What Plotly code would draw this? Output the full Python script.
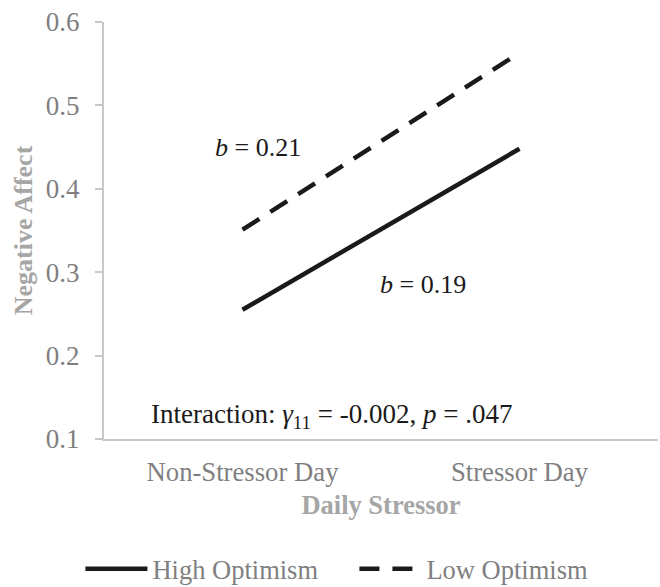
import plotly.graph_objects as go

categories = ["Non-Stressor Day", "Stressor Day"]
high_optimism = [0.255, 0.448]
low_optimism = [0.351, 0.563]
y_ticks = [0.1, 0.2, 0.3, 0.4, 0.5, 0.6]

FONT = "Liberation Serif, Times New Roman, serif"
GRAY = "#7f7f7f"
TITLE_GRAY = "#a6a6a6"
AXIS = "#c8c8c8"
INK = "#1a1a1a"
FS = 26

fig = go.Figure()
fig.add_trace(go.Scatter(x=categories, y=high_optimism, mode="lines", name="High Optimism",
                         line=dict(color=INK, width=4.5)))
fig.add_trace(go.Scatter(x=categories, y=low_optimism, mode="lines", name="Low Optimism",
                         line=dict(color=INK, width=4.5, dash="20px,13px")))

fig.update_layout(
    width=660, height=587,
    margin=dict(l=104, r=2, t=22, b=148, autoexpand=False),
    paper_bgcolor="white", plot_bgcolor="white",
    font=dict(family=FONT, size=FS, color=GRAY),
    showlegend=True,
    legend=dict(orientation="h", x=0.452, xanchor="center", y=-0.312, yanchor="middle",
                font=dict(family=FONT, size=26.5, color=GRAY),
                itemwidth=62, entrywidth=197, traceorder="normal"),
)
fig.update_xaxes(
    type="category", range=[-0.5, 1.5], showgrid=False, zeroline=False, automargin=False,
    showline=True, linecolor=AXIS, linewidth=2, ticks="",
    tickfont=dict(family=FONT, size=26.7, color=GRAY), ticklabelstandoff=8,
    title=dict(text="<b>Daily Stressor</b>", font=dict(family=FONT, size=26.5, color=TITLE_GRAY),
               standoff=9),
)
fig.update_yaxes(
    range=[0.1, 0.6], tickvals=y_ticks, ticktext=[f"{v:.1f}" for v in y_ticks],
    showgrid=False, zeroline=False, showline=True, linecolor=AXIS, linewidth=2, automargin=False,
    ticks="outside", ticklen=7, tickcolor=AXIS, tickwidth=2,
    tickfont=dict(family=FONT, size=27, color=GRAY), ticklabelstandoff=10,
    title=dict(text="<b>Negative Affect</b>", font=dict(family=FONT, size=FS, color=TITLE_GRAY),
               standoff=6),
)

ann_font = dict(family=FONT, size=FS, color=INK)
fig.add_annotation(x=0.278, y=0.45, xref="paper", yref="y", xanchor="center",
                   text="<i>b</i> = 0.21", showarrow=False, font=ann_font)
fig.add_annotation(x=0.576, y=0.285, xref="paper", yref="y", xanchor="center",
                   text="<i>b</i> = 0.19", showarrow=False, font=ann_font)
fig.add_annotation(x=0.4115, y=0.127, xref="paper", yref="y", xanchor="center",
                   text="Interaction: <i>γ</i><sub>11</sub> = -0.002, <i>p</i> = .047",
                   showarrow=False, font=dict(family=FONT, size=27, color=INK))

page_css = ("var s=document.createElement('style');"
            "s.textContent='html,body{margin:0;padding:0;overflow:hidden;}';"
            "document.head.appendChild(s);")
fig.write_html("out.html", config={"displayModeBar": False}, post_script=page_css)
